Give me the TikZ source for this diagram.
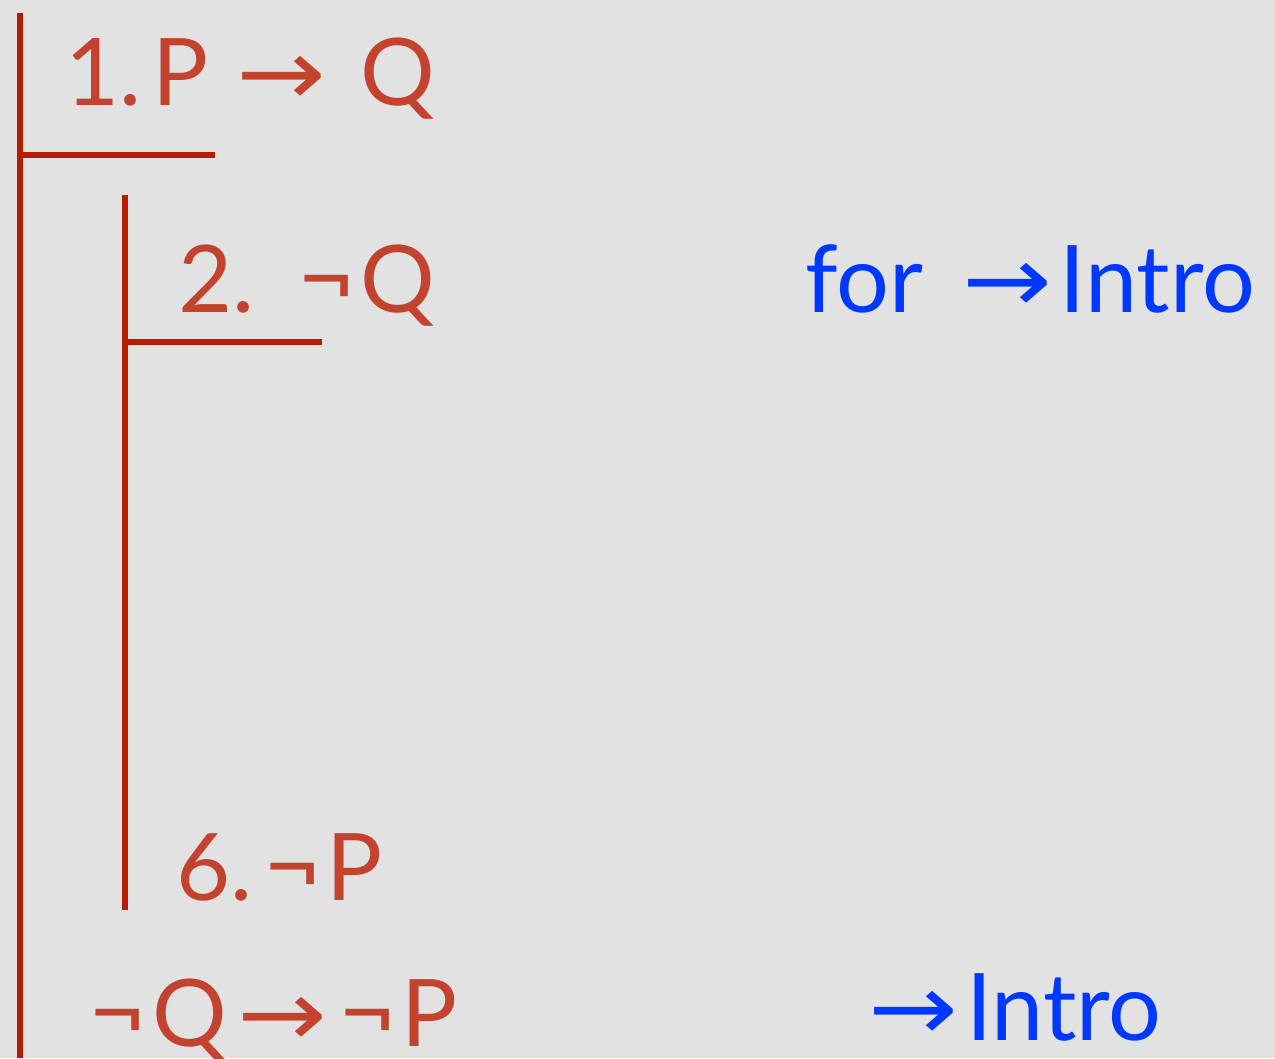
\documentclass[tikz,border=0pt]{standalone}
\usepackage{graphicx}
\usepackage{fontspec}
\setmainfont{Lato}
\newfontfamily\symfont{DejaVu Sans}
\usetikzlibrary{positioning}
\definecolor{proofred}{HTML}{C4432F}
\definecolor{barred}{HTML}{B81C00}
\definecolor{ruleblue}{HTML}{0038FF}
\definecolor{paper}{HTML}{E2E2E2}
\newcommand{\imp}{\scalebox{1.15}[1]{\symfont →}}
\newcommand{\nega}{\scalebox{1.08}{¬}\kern4pt}

\begin{document}
\begin{tikzpicture}[
  x=0.75pt, y=-0.75pt,
  every node/.style={font=\fontsize{70}{82}\selectfont, inner sep=0pt, anchor=base west},
  line/.style={proofred},
  just/.style={ruleblue},
  bar/.style={draw=barred, line width=3.8pt}
]
\fill[paper] (0,0) rectangle (1275,1058);
\useasboundingbox (0,0) rectangle (1275,1058);

% bars
\coordinate (outtop) at (20,13);
\coordinate (outbot) at (20,1058);
\coordinate (outhyp) at (20,155);
\coordinate (outend) at (215,155);
\coordinate (intop) at (125,195);
\coordinate (inbot) at (125,910);
\coordinate (inhyp) at (125,342);
\coordinate (inend) at (322,342);
\draw[bar] (outtop) -- (outbot);
\draw[bar] (outhyp) -- (outend);
\draw[bar] (intop) -- (inbot);
\draw[bar] (inhyp) -- (inend);

% lines
\node[line] (l1) at (65,105) {1.\kern8pt P\kern21pt\imp\kern26pt Q};
\node[line] (l2) at (178,312) {2.\kern32pt\nega Q};
\node[line] (l6) at (176,900) {6.\kern8pt\nega P};
\node[line] (lc) at (88,1046) {\nega Q\kern8pt\imp\kern8pt\nega P};

% rules
\node[just] (j2) at (805,312) {for\kern29pt\imp\kern6pt Intro};
\node[just] (jc) at (868,1040) {\imp\kern6pt Intro};
\end{tikzpicture}
\end{document}
